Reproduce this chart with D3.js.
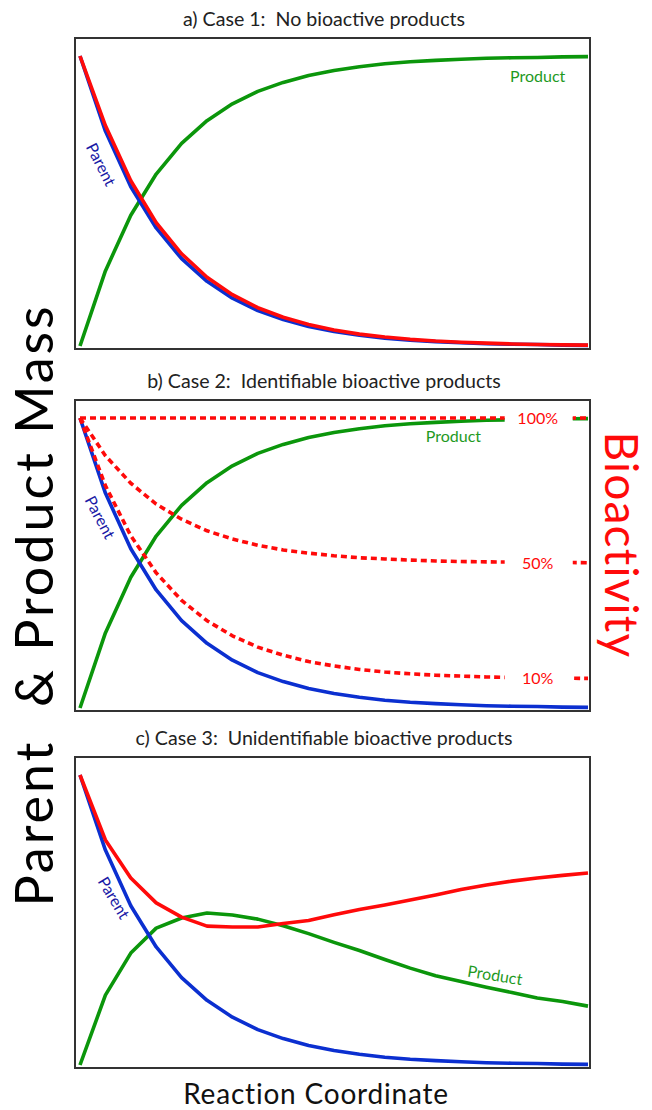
<!DOCTYPE html>
<html>
<head>
<meta charset="utf-8">
<script src="https://cdn.jsdelivr.net/npm/d3@7"></script>
<style>
  body { margin: 0; background: #fff; }
  svg { display: block; font-family: Lato, "Open Sans", sans-serif; }
</style>
</head>
<body>
<svg id="chart" width="652" height="1110"></svg>
<script>
// reaction coordinate steps
const steps = [0,1,2,3,4,5,6,7,8,9,10,11,12,13,14,15,16,17,18,19,20];

// case 1 / case 2 mass curves
const parentMass  = [1.000,0.741,0.549,0.407,0.301,0.223,0.165,0.122,0.091,0.067,0.050,0.037,0.027,0.020,0.015,0.011,0.008,0.006,0.005,0.003,0.002];
const productMass = [0.000,0.259,0.451,0.593,0.699,0.777,0.835,0.878,0.909,0.933,0.950,0.963,0.973,0.980,0.985,0.989,0.992,0.994,0.995,0.997,0.998];
// case 1 bioactivity
const bioCase1 = [1.000,0.760,0.570,0.425,0.318,0.237,0.177,0.132,0.099,0.074,0.055,0.041,0.031,0.023,0.017,0.013,0.010,0.007,0.005,0.004,0.003];
// case 2 bioactivity (product keeps 100%, 50%, 10%)
const bio100 = [1,1,1,1,1,1,1,1,1,1,1,1,1,1,1,1,1,1,1,1,1];
const bio50  = [1.000,0.870,0.775,0.703,0.651,0.611,0.583,0.561,0.545,0.534,0.525,0.518,0.514,0.510,0.507,0.505,0.504,0.503,0.502,0.502,0.501];
const bio10  = [1.000,0.767,0.594,0.466,0.371,0.301,0.249,0.210,0.182,0.160,0.145,0.133,0.124,0.118,0.113,0.110,0.107,0.105,0.104,0.103,0.102];
const bioLabels = ["100%", "50%", "10%"];
// case 3
const productCase3 = [0.000,0.241,0.386,0.472,0.507,0.524,0.517,0.503,0.480,0.453,0.423,0.395,0.364,0.334,0.308,0.288,0.268,0.250,0.231,0.219,0.203];
const bioCase3     = [1.000,0.776,0.645,0.559,0.510,0.479,0.476,0.476,0.488,0.498,0.518,0.536,0.552,0.569,0.586,0.605,0.621,0.634,0.645,0.654,0.662];

const titles = [
  "a) Case 1:  No bioactive products",
  "b) Case 2:  Identifiable bioactive products",
  "c) Case 3:  Unidentifiable bioactive products"
];

const BLUE = "#0b2fd0", RED = "#ff0a0a", GREEN = "#0b960b";
const LABEL_BLUE = "#1a1aa6", LABEL_GREEN = "#1f9a1f";

const svg = d3.select("#chart");
const panelLeft = 75, panelWidth = 515, panelHeight = 311;
const panelTops = [38, 400, 757];

const x = d3.scaleLinear().domain([0, 20]).range([panelLeft + 5, panelLeft + 513]);

function drawPanel(i, series) {
  const top = panelTops[i];
  const y = d3.scaleLinear().domain([0, 1]).range([top + 308, top + 18]);
  const line = d3.line().x((d, j) => x(steps[j])).y(d => y(d));

  // titolo del pannello
  svg.append("text")
    .attr("x", 324)
    .attr("y", top - 12)
    .attr("text-anchor", "middle")
    .style("white-space", "pre")
    .style("font-size", "19.6px")
    .style("fill", "#222")
    .text(titles[i]);

  const g = svg.append("g");
  series.forEach(s => {
    g.append("path")
      .datum(s.values)
      .attr("d", line)
      .attr("fill", "none")
      .attr("stroke", s.color)
      .attr("stroke-width", 3.6)
      .attr("stroke-linejoin", "round")
      .attr("stroke-dasharray", s.dash || null)
      .attr("clip-path", s.clip || null);
  });

  svg.append("rect")
    .attr("x", panelLeft).attr("y", top)
    .attr("width", panelWidth).attr("height", panelHeight)
    .attr("fill", "none")
    .attr("stroke", "#333")
    .attr("stroke-width", 2);

  return y;
}

// clip leaving a gap for the percentage labels in panel b
const gapFrom = 16.72, gapTo = 19.4;
const clip = svg.append("defs").append("clipPath").attr("id", "gapClip");
clip.append("rect").attr("x", panelLeft).attr("y", 0)
  .attr("width", x(gapFrom) - panelLeft).attr("height", 1110);
clip.append("rect").attr("x", x(gapTo)).attr("y", 0)
  .attr("width", panelLeft + panelWidth - x(gapTo)).attr("height", 1110);

// a) case 1
const ya = drawPanel(0, [
  { values: productMass, color: GREEN },
  { values: parentMass, color: BLUE },
  { values: bioCase1, color: RED }
]);

// b) case 2
const yb = drawPanel(1, [
  { values: productMass, color: GREEN, clip: "url(#gapClip)" },
  { values: parentMass, color: BLUE },
  { values: bio100, color: RED, dash: "6,4", clip: "url(#gapClip)" },
  { values: bio50, color: RED, dash: "6,4", clip: "url(#gapClip)" },
  { values: bio10, color: RED, dash: "6,4", clip: "url(#gapClip)" }
]);

// c) case 3
const yc = drawPanel(2, [
  { values: productCase3, color: GREEN },
  { values: parentMass, color: BLUE },
  { values: bioCase3, color: RED }
]);

// percentage labels in panel b
[bio100, bio50, bio10].forEach((arr, k) => {
  svg.append("text")
    .attr("x", x(18.02))
    .attr("y", yb(arr[arr.length - 1]) + 6)
    .attr("text-anchor", "middle")
    .style("font-size", "16px")
    .style("fill", RED)
    .text(bioLabels[k]);
});

// curve labels
function curveLabel(txt, px, py, angle, color) {
  svg.append("text")
    .attr("transform", `translate(${px},${py}) rotate(${angle})`)
    .attr("text-anchor", "middle")
    .style("font-size", "16px")
    .style("fill", color)
    .text(txt);
}
curveLabel("Parent", x(0.63), ya(0.617), 63, LABEL_BLUE);
curveLabel("Parent", x(0.59), yb(0.648), 62, LABEL_BLUE);
curveLabel("Parent", x(1.14), yc(0.566), 59, LABEL_BLUE);

curveLabel("Product", x(18.02), ya(0.928) + 5, 0, LABEL_GREEN);
curveLabel("Product", x(14.7), yb(0.934) + 5, 0, LABEL_GREEN);
curveLabel("Product", x(16.3), yc(0.29), 9, LABEL_GREEN);

// axis titles
svg.append("text")
  .attr("transform", "translate(53,605) rotate(-90)")
  .attr("text-anchor", "middle")
  .style("white-space", "pre")
  .style("font-size", "52px")
  .style("letter-spacing", "3px")
  .style("fill", "#000")
  .text("Parent  & Product Mass");

svg.append("text")
  .attr("transform", "translate(605,545) rotate(90)")
  .attr("text-anchor", "middle")
  .style("font-size", "46px")
  .style("letter-spacing", "1.2px")
  .style("fill", RED)
  .text("Bioactivity");

svg.append("text")
  .attr("x", 316).attr("y", 1103.5)
  .attr("text-anchor", "middle")
  .style("font-size", "28px")
  .style("letter-spacing", "0.8px")
  .style("fill", "#111")
  .text("Reaction Coordinate");
</script>
</body>
</html>
